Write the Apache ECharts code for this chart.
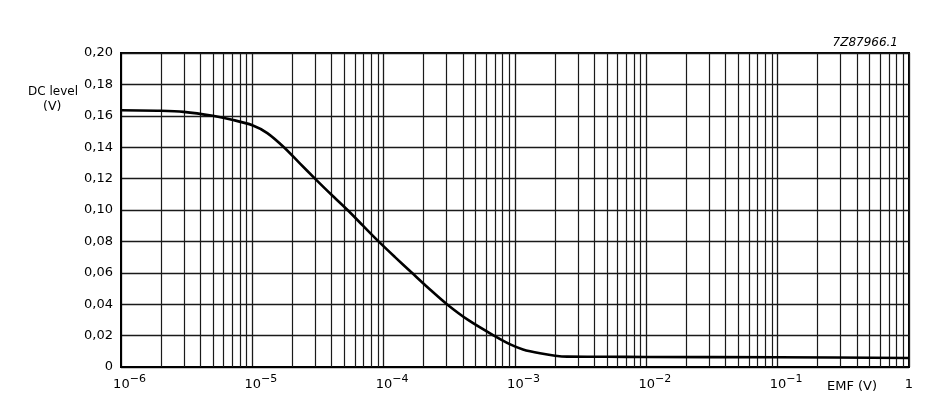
<!DOCTYPE html>
<html>
<head>
<meta charset="utf-8">
<script src="https://cdn.jsdelivr.net/npm/echarts@6/dist/echarts.min.js"></script>
<style>
html,body{margin:0;padding:0;background:#fff;}
#c{width:938px;height:407px;}
</style>
</head>
<body>
<div id="c"></div>
<script>
// EMF (V) values
const emf = [1e-6, 2e-6, 3e-6, 5e-6, 7e-6, 1e-5, 1.3e-5, 1.74e-5, 2.28e-5, 3e-5, 3.97e-5, 5.31e-5, 6.96e-5, 9.14e-5, 1.22e-4, 1.64e-4, 2.21e-4, 3.03e-4, 4.39e-4, 6.92e-4, 9.2e-4, 1.15e-3, 1.55e-3, 2.02e-3, 2.5e-3, 5e-3, 1e-2, 1e-1, 1];
// DC level (V)
const dcLevel = [0.1635, 0.1632, 0.1625, 0.1600, 0.1575, 0.1540, 0.1490, 0.1400, 0.1300, 0.1200, 0.1100, 0.1000, 0.0900, 0.0800, 0.0700, 0.0600, 0.0500, 0.0400, 0.0300, 0.0200, 0.0144, 0.0112, 0.0087, 0.0072, 0.0066, 0.0065, 0.0064, 0.0062, 0.0057];
const decadeExponents = [-6, -5, -4, -3, -2, -1, 0];
const minorMultipliers = [2, 3, 4, 5, 6, 7, 8, 9];

const minorGrid = [];
for (const e of decadeExponents.slice(0, -1)) {
  for (const m of minorMultipliers) minorGrid.push([m * Math.pow(10, e)]);
}

const FONT = 'DejaVu Sans';
const chart = echarts.init(document.getElementById('c'), null, { renderer: 'canvas' });
chart.setOption({
  animation: false,
  backgroundColor: '#fff',
  grid: { left: 121, right: 29, top: 53, bottom: 40, show: true, borderColor: '#000', borderWidth: 2 },
  xAxis: {
    type: 'log', logBase: 10, min: 1e-6, max: 1,
    axisLine: { show: true, lineStyle: { color: '#000', width: 2 } },
    axisTick: { show: false },
    splitLine: { show: true, lineStyle: { color: '#1a1a1a', width: 1.3 } },
    axisLabel: {
      margin: 7,
      color: '#000',
      fontFamily: FONT,
      formatter: function (v) {
        const e = Math.round(Math.log10(v));
        if (e === 0) return '{b|1}';
        return '{p|}{b|10}{s|\u2212' + Math.abs(e) + '}';
      },
      rich: {
        p: { width: 17, fontSize: 11, fontFamily: FONT },
        b: { fontSize: 13, fontFamily: FONT, color: '#000', padding: [4, 0, 0, 0] },
        s: { fontSize: 11, fontFamily: FONT, color: '#000', verticalAlign: 'top', padding: [0, 0, 6, 0] }
      }
    }
  },
  yAxis: {
    type: 'value', min: 0, max: 0.2, interval: 0.02,
    axisLine: { show: true, lineStyle: { color: '#000', width: 2 } },
    axisTick: { show: false },
    splitLine: { show: true, lineStyle: { color: '#1a1a1a', width: 1.3 } },
    axisLabel: {
      margin: 8, color: '#000', fontSize: 13, fontFamily: FONT,
      formatter: function (v) {
        if (v === 0) return '0';
        return v.toFixed(2).replace('.', ',');
      }
    }
  },
  graphic: [
    { type: 'text', left: 28, top: 86, style: { text: 'DC level', font: '12px "DejaVu Sans"', fill: '#000' } },
    { type: 'text', left: 43, top: 100, style: { text: '(V)', font: '12.5px "DejaVu Sans"', fill: '#000' } },
    { type: 'text', left: 827, top: 380, style: { text: 'EMF (V)', font: '13px "DejaVu Sans"', fill: '#000' } },
    { type: 'text', right: 40, top: 37, style: { text: '7Z87966.1', font: 'italic 12px "DejaVu Sans"', fill: '#000' } }
  ],
  series: [
    {
      type: 'custom', z: 1, silent: true,
      data: minorGrid,
      encode: { x: 0 },
      renderItem: function (params, api) {
        const v = api.value(0);
        const p0 = api.coord([v, 0]);
        const p1 = api.coord([v, 0.2]);
        return {
          type: 'line',
          shape: { x1: Math.round(p0[0]) + 0.5, y1: p0[1], x2: Math.round(p1[0]) + 0.5, y2: p1[1] },
          style: { stroke: '#1a1a1a', lineWidth: 1.2 }
        };
      }
    },
    {
      type: 'line', z: 5,
      data: emf.map((x, i) => [x, dcLevel[i]]),
      smooth: 0.3, symbol: 'none',
      lineStyle: { color: '#000', width: 2.6, join: 'round' }
    }
  ]
});
</script>
</body>
</html>
